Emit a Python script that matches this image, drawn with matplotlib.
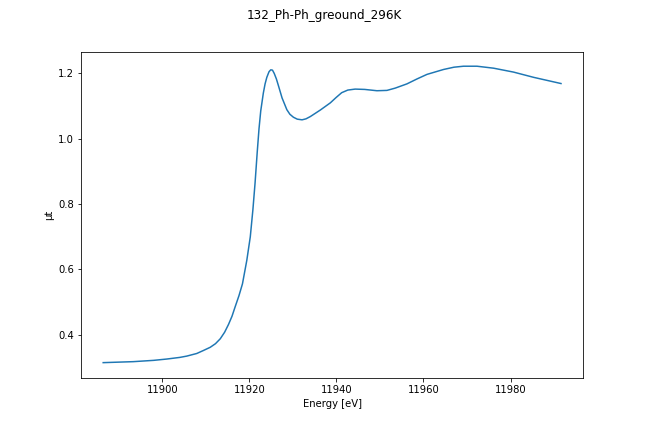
import matplotlib
matplotlib.use("Agg")
import matplotlib.pyplot as plt

energy = [11886.4, 11893.3, 11898.0, 11901.0, 11904.0, 11905.6, 11907.9, 11909.4,
          11911.0, 11912.2, 11913.3, 11914.3, 11915.2, 11916.0, 11916.7, 11917.6,
          11918.4, 11919.4, 11920.2, 11920.8, 11921.3, 11921.8, 11922.2, 11922.6,
          11923.2, 11923.6, 11924.0, 11924.5, 11924.9, 11925.3, 11925.7, 11926.2,
          11926.7, 11927.5, 11928.6, 11929.3, 11930.1, 11931.0, 11932.1, 11933.0,
          11934.0, 11936.3, 11938.6, 11939.9, 11941.2, 11942.6, 11944.3, 11946.5,
          11949.3, 11951.6, 11953.5, 11956.2, 11958.5, 11960.8, 11964.6, 11967.0,
          11969.2, 11972.3, 11976.1, 11980.7, 11985.3, 11991.6]
mu_t = [0.315, 0.318, 0.322, 0.326, 0.331, 0.335, 0.343, 0.352,
        0.362, 0.373, 0.388, 0.408, 0.432, 0.457, 0.485, 0.520,
        0.556, 0.628, 0.700, 0.783, 0.865, 0.960, 1.030, 1.085,
        1.140, 1.168, 1.188, 1.205, 1.211, 1.210, 1.200, 1.183,
        1.161, 1.125, 1.089, 1.075, 1.066, 1.060, 1.058, 1.061,
        1.068, 1.088, 1.110, 1.126, 1.141, 1.149, 1.152, 1.151,
        1.147, 1.148, 1.155, 1.168, 1.183, 1.197, 1.212, 1.219,
        1.222, 1.222, 1.216, 1.204, 1.188, 1.169]

fig = plt.figure(figsize=(9, 6), dpi=72)
fig.subplots_adjust(left=0.125, right=0.9, top=0.88, bottom=0.125)
ax = fig.add_subplot(111)
ax.plot(energy, mu_t, color="#1f77b4", linewidth=1.5)
ax.set_xlim(11881.3, 11996.7)
ax.set_ylim(0.268, 1.266)
ax.set_xticks([11900, 11920, 11940, 11960, 11980])
ax.set_yticks([0.4, 0.6, 0.8, 1.0, 1.2])
ax.set_xlabel("Energy [eV]")
ax.set_ylabel("μt")
fig.suptitle("132_Ph-Ph_greound_296K")
fig.savefig("out.png", dpi=72)
